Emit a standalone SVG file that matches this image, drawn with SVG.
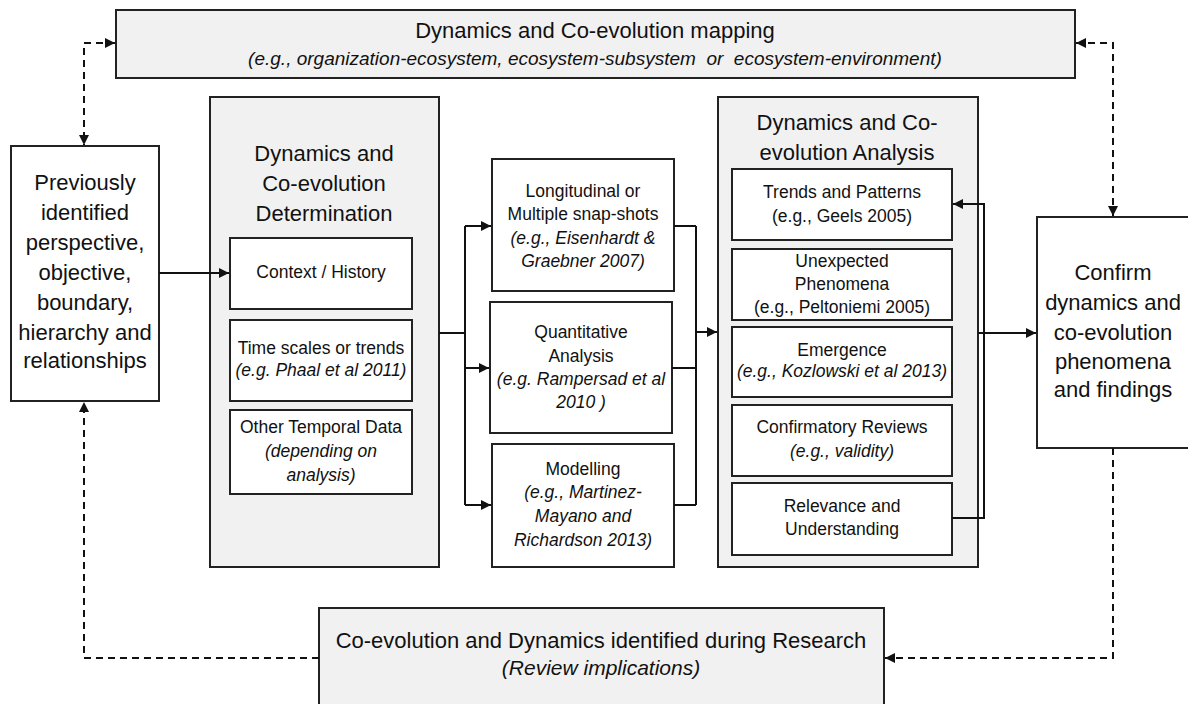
<svg xmlns="http://www.w3.org/2000/svg" width="1188" height="704" viewBox="0 0 1188 704">
<defs>
<marker id="ah" markerWidth="10" markerHeight="10" refX="10" refY="5" orient="auto-start-reverse" markerUnits="userSpaceOnUse">
<path d="M0,0 L10,5 L0,10 Z" fill="#111"/>
</marker>
<style>
.gbox{fill:#f1f1f1;stroke:#222;stroke-width:2}
.wbox{fill:#fff;stroke:#222;stroke-width:2}
.big{font-family:"Liberation Sans",Arial,sans-serif;font-size:22px;fill:#111;text-anchor:middle}
.sm{font-family:"Liberation Sans",Arial,sans-serif;font-size:17.5px;fill:#111;text-anchor:middle}
.it{font-style:italic}
.ln{fill:none;stroke:#111;stroke-width:2}
.dl{fill:none;stroke:#111;stroke-width:2;stroke-dasharray:7,5}
</style>
</defs>
<rect width="1188" height="704" fill="#fff"/>

<g id="mapping">
<rect class="gbox" x="116" y="10" width="959" height="68"/>
<text class="big" x="595" y="38">Dynamics and Co-evolution mapping</text>
<text class="sm it" x="595" y="65" style="font-size:19px" xml:space="preserve">(e.g., organization-ecosystem, ecosystem-subsystem  or  ecosystem-environment)</text>
</g>

<g id="previously">
<rect class="wbox" x="11" y="146" width="148" height="255"/>
<text class="big" x="85" y="190">Previously</text>
<text class="big" x="85" y="220">identified</text>
<text class="big" x="85" y="250">perspective,</text>
<text class="big" x="85" y="280">objective,</text>
<text class="big" x="85" y="310">boundary,</text>
<text class="big" x="85" y="340">hierarchy and</text>
<text class="big" x="85" y="368">relationships</text>
</g>

<g id="determination">
<rect class="gbox" x="210" y="97" width="229" height="470"/>
<text class="big" x="324" y="161">Dynamics and</text>
<text class="big" x="324" y="191">Co-evolution</text>
<text class="big" x="324" y="221">Determination</text>
</g>
<g id="context">
<rect class="wbox" x="230" y="238" width="182" height="71"/>
<text class="sm" x="321" y="278">Context / History</text>
</g>
<g id="timescales">
<rect class="wbox" x="230" y="320" width="182" height="81"/>
<text class="sm" x="321" y="354">Time scales or trends</text>
<text class="sm it" x="321" y="376">(e.g. Phaal et al 2011)</text>
</g>
<g id="temporal">
<rect class="wbox" x="230" y="410" width="182" height="84"/>
<text class="sm" x="321" y="433">Other Temporal Data</text>
<text class="sm it" x="321" y="457">(depending on</text>
<text class="sm it" x="321" y="481">analysis)</text>
</g>

<g id="longitudinal">
<rect class="wbox" x="492" y="159" width="182" height="132"/>
<text class="sm" x="583" y="197">Longitudinal or</text>
<text class="sm" x="583" y="220">Multiple snap-shots</text>
<text class="sm it" x="583" y="244">(e.g., Eisenhardt &amp;</text>
<text class="sm it" x="583" y="267">Graebner 2007)</text>
</g>
<g id="quantitative">
<rect class="wbox" x="490" y="302" width="182" height="131"/>
<text class="sm" x="581" y="338">Quantitative</text>
<text class="sm" x="581" y="362">Analysis</text>
<text class="sm it" x="581" y="385">(e.g. Rampersad et al</text>
<text class="sm it" x="581" y="408">2010 )</text>
</g>
<g id="modelling">
<rect class="wbox" x="492" y="444" width="182" height="123"/>
<text class="sm" x="583" y="475">Modelling</text>
<text class="sm it" x="583" y="498">(e.g., Martinez-</text>
<text class="sm it" x="583" y="522">Mayano and</text>
<text class="sm it" x="583" y="546">Richardson 2013)</text>
</g>

<g id="analysis">
<rect class="gbox" x="718" y="97" width="260" height="470"/>
<text class="big" x="847" y="130">Dynamics and Co-</text>
<text class="big" x="847" y="160">evolution Analysis</text>
</g>
<g id="trends">
<rect class="wbox" x="732" y="169" width="220" height="71"/>
<text class="sm" x="842" y="198">Trends and Patterns</text>
<text class="sm" x="842" y="222">(e.g., Geels 2005)</text>
</g>
<g id="unexpected">
<rect class="wbox" x="732" y="249" width="220" height="71"/>
<text class="sm" x="842" y="267">Unexpected</text>
<text class="sm" x="842" y="290">Phenomena</text>
<text class="sm" x="842" y="313">(e.g., Peltoniemi 2005)</text>
</g>
<g id="emergence">
<rect class="wbox" x="732" y="327" width="220" height="70"/>
<text class="sm" x="842" y="356">Emergence</text>
<text class="sm it" x="842" y="377">(e.g., Kozlowski et al 2013)</text>
</g>
<g id="confirmatory">
<rect class="wbox" x="732" y="405" width="220" height="71"/>
<text class="sm" x="842" y="433">Confirmatory Reviews</text>
<text class="sm it" x="842" y="457">(e.g., validity)</text>
</g>
<g id="relevance">
<rect class="wbox" x="732" y="483" width="220" height="72"/>
<text class="sm" x="842" y="512">Relevance and</text>
<text class="sm" x="842" y="535">Understanding</text>
</g>

<g id="confirm">
<rect class="wbox" x="1037" y="217" width="155" height="231"/>
<text class="big" x="1113" y="280">Confirm</text>
<text class="big" x="1113" y="310">dynamics and</text>
<text class="big" x="1113" y="340">co-evolution</text>
<text class="big" x="1113" y="369">phenomena</text>
<text class="big" x="1113" y="397">and findings</text>
</g>

<g id="research">
<rect class="gbox" x="319" y="608" width="565" height="100"/>
<text class="big" x="601" y="648">Co-evolution and Dynamics identified during Research</text>
<text class="big it" x="601" y="675" style="font-size:21px">(Review implications)</text>
</g>

<g id="connectors">
<path class="ln" d="M159,273 H229" marker-end="url(#ah)"/>
<path class="ln" d="M439,333 H465"/>
<path class="ln" d="M465,226 V505"/>
<path class="ln" d="M465,226 H491" marker-end="url(#ah)"/>
<path class="ln" d="M465,368 H489" marker-end="url(#ah)"/>
<path class="ln" d="M465,505 H491" marker-end="url(#ah)"/>
<path class="ln" d="M674,226 H696 M672,368 H696 M674,505 H696 M696,226 V505"/>
<path class="ln" d="M696,332 H717" marker-end="url(#ah)"/>
<path class="ln" d="M978,333 H1036" marker-end="url(#ah)"/>
<path class="ln" d="M952,518 H984 V204 H953" marker-end="url(#ah)"/>
<path class="dl" d="M115,43 H84 V145" marker-start="url(#ah)" marker-end="url(#ah)"/>
<path class="dl" d="M1076,43 H1113 V216" marker-start="url(#ah)" marker-end="url(#ah)"/>
<path class="dl" d="M319,658 H84 V402" marker-end="url(#ah)"/>
<path class="dl" d="M1113,448 V658 H885" marker-end="url(#ah)"/>
</g>
</svg>
